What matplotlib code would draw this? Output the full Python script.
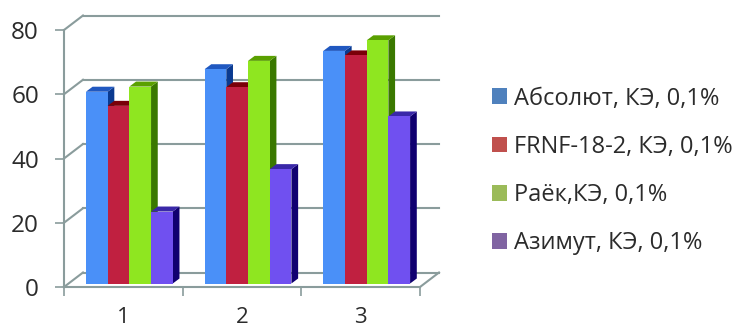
import numpy as np
import matplotlib
matplotlib.use('Agg')
import matplotlib.pyplot as plt
from matplotlib.patches import Patch, Polygon

plt.rcParams['font.family'] = ['Open Sans', 'DejaVu Sans']

categories = ['1', '2', '3']
series_names = ['Абсолют, КЭ, 0,1%', 'FRNF-18-2, КЭ, 0,1%', 'Раёк,КЭ, 0,1%', 'Азимут, КЭ, 0,1%']
absolut = [59.7, 66.7, 72.4]
frnf = [55.3, 61.1, 71.0]
raek = [61.3, 69.3, 75.7]
azimut = [22.4, 35.6, 52.0]
y_ticks = [0, 20, 40, 60, 80]

front_colors = ['#4A90F8', '#C02040', '#8FE620', '#7050F0']
side_colors = ['#0A3A90', '#7A0010', '#3A7800', '#100070']
top_colors = ['#2058C0', '#7A0008', '#5AA000', '#3A28A8']
legend_colors = ['#4F81BD', '#C0504D', '#9BBB59', '#8064A2']
axis_color = '#8A9C9C'
text_color = '#2B2B2B'

W, H = 734, 329
fig = plt.figure(figsize=(W / 100, H / 100), dpi=100)
ax = fig.add_axes([64 / W, (H - 287) / H, 356 / W, 257 / H])
ax.set_xlim(0, 3)
ax.set_ylim(0, 80)

# pixel sizes of one data unit, so depth can be given in pixels
px_x = 356 / 3
px_y = 257 / 80


def shifted(x, y, dx_px, dy_px):
    return x + dx_px / px_x, y + dy_px / px_y


def depth_line(x0, y0, x1, y1):
    ax.plot([x0, x1], [y0, y1], color=axis_color, lw=1.5, clip_on=False,
            solid_capstyle='projecting', zorder=1)


# walls and floor behind the bars
wall_dx, wall_dy = 19, 14.5
for v in y_ticks:
    bx, by = shifted(0, v, wall_dx, wall_dy)
    ex, _ = shifted(3, v, wall_dx, wall_dy)
    depth_line(0, v, bx, by)
    depth_line(bx, by, ex, by)
rx, ry = shifted(3, 0, wall_dx, wall_dy)
depth_line(3, 0, rx, ry)

# clustered bars, left to right so that later fronts cover earlier sides
bar_w = 0.183
base_dx, base_dy = 6, 3.5
side_dx, side_dy = 6.7, 5
series = [absolut, frnf, raek, azimut]
for c in range(len(categories)):
    for s, values in enumerate(series):
        x0 = c + 0.5 + (s - 2) * bar_w + base_dx / px_x
        v0 = base_dy / px_y
        x1 = x0 + bar_w
        v1 = values[c] + v0
        ax.bar(x0, values[c], bar_w, bottom=v0, align='edge', color=front_colors[s],
               clip_on=False, zorder=3 + c * 4 + s)
        sx, sy = side_dx / px_x, side_dy / px_y
        ax.add_patch(Polygon([(x1, v0), (x1 + sx, v0 + sy), (x1 + sx, v1 + sy), (x1, v1)],
                             fc=side_colors[s], ec='none', clip_on=False, zorder=2.9 + c * 4 + s))
        ax.add_patch(Polygon([(x0, v1), (x1, v1), (x1 + sx, v1 + sy), (x0 + sx, v1 + sy)],
                             fc=top_colors[s], ec='none', clip_on=False, zorder=2.9 + c * 4 + s))

for name in ['top', 'right']:
    ax.spines[name].set_visible(False)
for name in ['left', 'bottom']:
    ax.spines[name].set_color(axis_color)
    ax.spines[name].set_linewidth(1.5)
    ax.spines[name].set_zorder(2)

ax.set_yticks(y_ticks)
ax.set_xticks([0, 1, 2, 3])
ax.set_xticklabels([])
ax.set_xticks([0.5, 1.5, 2.5], minor=True)
ax.set_xticklabels(categories, minor=True)
ax.tick_params(axis='both', which='major', length=6.5, width=1.2, color=axis_color)
ax.tick_params(axis='y', labelsize=17.5, labelcolor=text_color, pad=11.5)
ax.tick_params(axis='x', which='minor', length=0, labelsize=16, labelcolor=text_color, pad=14.5)

handles = [Patch(fc=c, ec='none') for c in legend_colors]
fig.legend(handles, series_names, loc='center left', bbox_to_anchor=(492 / W, 1 - 171 / H),
           frameon=False, fontsize=17, labelcolor=text_color, handlelength=0.64,
           handleheight=0.64, handletextpad=0.3, labelspacing=1.03, borderpad=0,
           borderaxespad=0)

fig.savefig('out.png', dpi=100)
